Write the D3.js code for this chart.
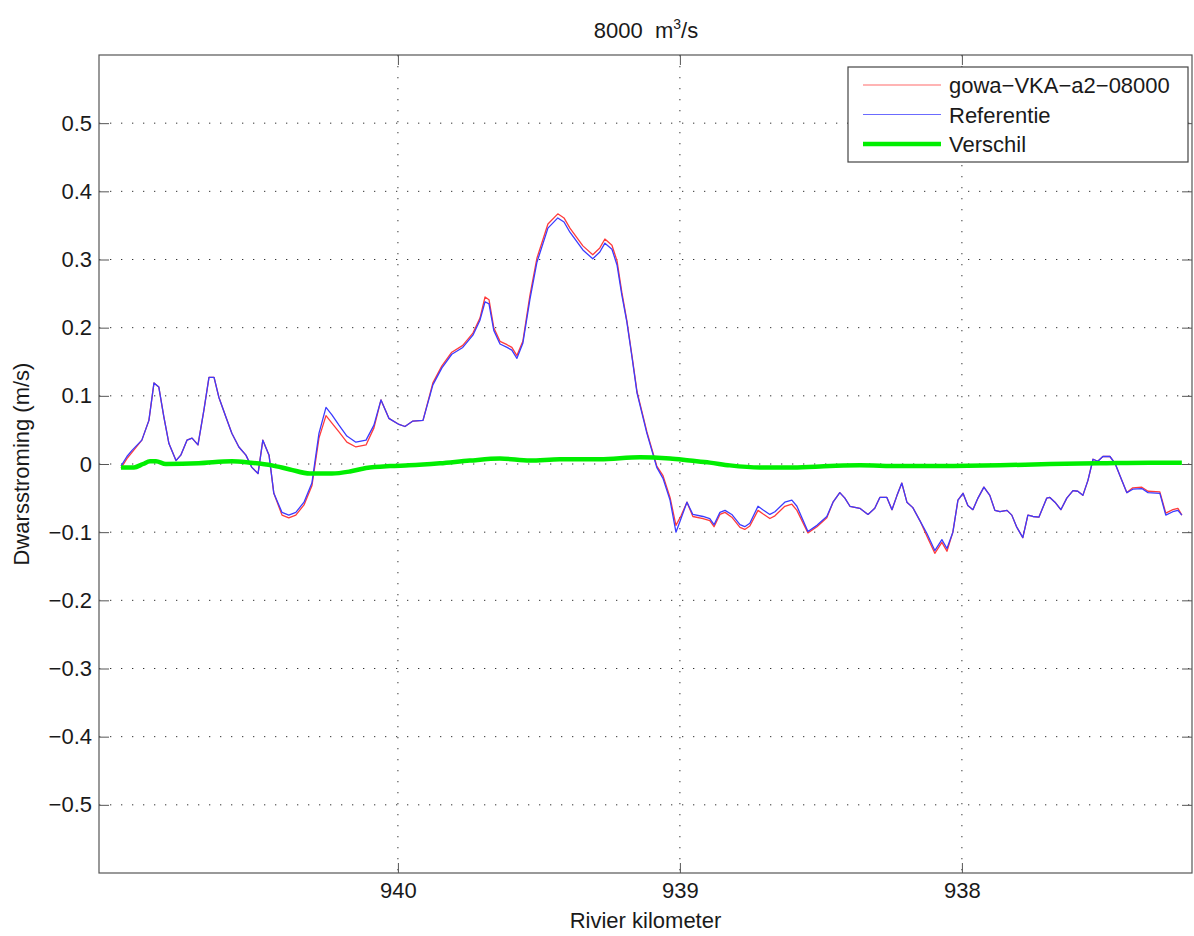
<!DOCTYPE html>
<html>
<head>
<meta charset="utf-8">
<script src="https://cdn.jsdelivr.net/npm/d3@7"></script>
<style>
  html, body { margin: 0; padding: 0; background: #fff; }
  svg { display: block; font-family: "Liberation Sans", Arial, Helvetica, sans-serif; }
</style>
</head>
<body>
<svg id="chart" width="1194" height="936"></svg>
<script>
// ---------- data ----------
const kmMain = [940.982,940.961,940.943,940.908,940.883,940.865,940.848,940.830,940.812,940.787,940.770,940.748,940.730,940.709,940.688,940.670,940.652,940.635,940.610,940.589,940.564,940.539,940.518,940.496,940.479,940.457,940.440,940.411,940.387,940.362,940.333,940.305,940.280,940.255,940.234,940.209,940.181,940.149,940.113,940.085,940.060,940.032,939.996,939.975,939.947,939.911,939.876,939.844,939.809,939.770,939.734,939.709,939.691,939.677,939.660,939.638,939.613,939.596,939.578,939.557,939.532,939.507,939.468,939.433,939.411,939.390,939.344,939.309,939.284,939.266,939.241,939.223,939.206,939.188,939.170,939.152,939.117,939.082,939.060,939.035,939.014,938.996,938.975,938.954,938.918,938.894,938.879,938.858,938.840,938.816,938.787,938.770,938.752,938.723,938.706,938.681,938.663,938.628,938.603,938.585,938.546,938.514,938.479,938.457,938.433,938.415,938.397,938.362,938.333,938.309,938.291,938.266,938.248,938.230,938.213,938.195,938.174,938.149,938.124,938.096,938.071,938.053,938.032,938.014,937.996,937.979,937.961,937.943,937.922,937.901,937.883,937.865,937.840,937.823,937.805,937.784,937.766,937.748,937.727,937.699,937.688,937.670,937.649,937.628,937.606,937.589,937.571,937.553,937.535,937.518,937.500,937.475,937.457,937.433,937.415,937.394,937.362,937.340,937.298,937.277,937.252,937.234,937.220];

const referentie = [-0.003,0.011,0.020,0.035,0.064,0.119,0.113,0.069,0.030,0.005,0.013,0.035,0.038,0.028,0.079,0.127,0.127,0.098,0.069,0.045,0.025,0.013,-0.005,-0.014,0.035,0.013,-0.043,-0.071,-0.075,-0.071,-0.056,-0.028,0.045,0.083,0.072,0.057,0.041,0.032,0.035,0.057,0.094,0.067,0.058,0.055,0.063,0.064,0.116,0.141,0.161,0.171,0.189,0.211,0.238,0.235,0.196,0.176,0.171,0.167,0.155,0.177,0.241,0.296,0.346,0.361,0.355,0.340,0.314,0.301,0.311,0.324,0.315,0.292,0.248,0.208,0.157,0.104,0.045,-0.005,-0.021,-0.053,-0.100,-0.080,-0.056,-0.074,-0.077,-0.080,-0.089,-0.071,-0.068,-0.074,-0.089,-0.092,-0.087,-0.062,-0.067,-0.074,-0.070,-0.056,-0.053,-0.062,-0.099,-0.090,-0.077,-0.056,-0.042,-0.050,-0.062,-0.065,-0.074,-0.065,-0.049,-0.049,-0.067,-0.046,-0.028,-0.056,-0.064,-0.083,-0.102,-0.127,-0.111,-0.124,-0.100,-0.053,-0.043,-0.061,-0.067,-0.050,-0.034,-0.046,-0.068,-0.070,-0.068,-0.075,-0.093,-0.108,-0.075,-0.077,-0.078,-0.050,-0.049,-0.056,-0.067,-0.050,-0.039,-0.040,-0.046,-0.024,0.007,0.004,0.011,0.011,0.001,-0.024,-0.042,-0.037,-0.036,-0.042,-0.043,-0.075,-0.070,-0.068,-0.075];

const gowa = [-0.006,0.008,0.017,0.035,0.064,0.119,0.113,0.069,0.030,0.005,0.013,0.035,0.038,0.028,0.079,0.127,0.127,0.098,0.069,0.045,0.025,0.013,-0.005,-0.014,0.035,0.013,-0.043,-0.075,-0.079,-0.075,-0.060,-0.032,0.038,0.071,0.060,0.047,0.032,0.025,0.028,0.053,0.094,0.067,0.058,0.055,0.063,0.064,0.119,0.144,0.164,0.174,0.192,0.214,0.245,0.241,0.200,0.180,0.175,0.171,0.159,0.180,0.247,0.302,0.352,0.367,0.361,0.346,0.320,0.307,0.317,0.330,0.321,0.298,0.252,0.210,0.159,0.106,0.047,-0.003,-0.017,-0.049,-0.090,-0.076,-0.056,-0.077,-0.080,-0.083,-0.092,-0.074,-0.071,-0.078,-0.093,-0.096,-0.091,-0.068,-0.073,-0.080,-0.076,-0.062,-0.059,-0.068,-0.101,-0.092,-0.079,-0.056,-0.042,-0.050,-0.062,-0.065,-0.074,-0.065,-0.049,-0.049,-0.067,-0.046,-0.028,-0.056,-0.064,-0.083,-0.106,-0.131,-0.115,-0.128,-0.100,-0.053,-0.043,-0.061,-0.067,-0.050,-0.034,-0.046,-0.068,-0.070,-0.068,-0.075,-0.093,-0.108,-0.075,-0.077,-0.078,-0.050,-0.049,-0.056,-0.067,-0.050,-0.039,-0.040,-0.046,-0.024,0.007,0.004,0.011,0.011,0.001,-0.024,-0.042,-0.035,-0.034,-0.040,-0.041,-0.072,-0.067,-0.065,-0.075];

const kmDiff = [940.982,940.936,940.904,940.879,940.858,940.823,940.706,940.589,940.525,940.447,940.383,940.312,940.234,940.170,940.113,940.028,939.961,939.851,939.745,939.638,939.532,939.426,939.284,939.142,939.035,938.965,938.894,938.823,938.716,938.599,938.468,938.362,938.220,938.078,937.865,937.688,937.511,937.333,937.220];
const verschil = [-0.005,-0.005,0.000,0.004,0.004,0.000,0.001,0.004,0.002,-0.002,-0.008,-0.014,-0.014,-0.011,-0.006,-0.003,-0.002,0.001,0.005,0.008,0.005,0.007,0.007,0.010,0.008,0.005,0.002,-0.002,-0.005,-0.005,-0.003,-0.002,-0.003,-0.003,-0.002,0.000,0.001,0.002,0.002];

const xTicks = [940, 939, 938];
const yTicks = [-0.5, -0.4, -0.3, -0.2, -0.1, 0, 0.1, 0.2, 0.3, 0.4, 0.5];
const seriesNames = ["gowa\u2212VKA\u2212a2\u221208000", "Referentie", "Verschil"];
const titleText = "8000\u00a0\u00a0m";
const yLabel = "Dwarsstroming (m/s)";
const xLabel = "Rivier kilometer";

// ---------- layout ----------
const FS = 22;
const L = 99, R = 1192, T = 55, B = 873;
const svg = d3.select("#chart");
const x = d3.scaleLinear().domain([941.06, 937.184]).range([L, R]);
const y = d3.scaleLinear().domain([-0.6, 0.6]).range([B, T]);

const fmt = v => (v === 0 ? "0" : (v < 0 ? "\u2212" : "") + Math.abs(v).toFixed(1));

// grid
const grid = svg.append("g");
grid.selectAll("line.gx").data(xTicks).join("line")
  .attr("x1", d => x(d)).attr("x2", d => x(d)).attr("y1", T).attr("y2", B)
  .attr("stroke", "#333").attr("stroke-width", 1).attr("stroke-dasharray", "1.3,9.7");
grid.selectAll("line.gy").data(yTicks).join("line")
  .attr("x1", L).attr("x2", R).attr("y1", d => y(d)).attr("y2", d => y(d))
  .attr("stroke", "#333").attr("stroke-width", 1).attr("stroke-dasharray", "1.3,9.7");

// axes with inward ticks
const axisCol = "#555";
const gL = svg.append("g").attr("transform", `translate(${L},0)`)
  .call(d3.axisLeft(y).tickValues(yTicks).tickFormat(fmt).tickSizeInner(-10).tickSizeOuter(0).tickPadding(7));
const gR = svg.append("g").attr("transform", `translate(${R},0)`)
  .call(d3.axisRight(y).tickValues(yTicks).tickFormat("").tickSizeInner(-10).tickSizeOuter(0));
const gB = svg.append("g").attr("transform", `translate(0,${B})`)
  .call(d3.axisBottom(x).tickValues(xTicks).tickFormat(d3.format("d")).tickSizeInner(-10).tickSizeOuter(0).tickPadding(8));
const gT = svg.append("g").attr("transform", `translate(0,${T})`)
  .call(d3.axisTop(x).tickValues(xTicks).tickFormat("").tickSizeInner(-10).tickSizeOuter(0));
[gL, gR, gB, gT].forEach(g => {
  g.select(".domain").remove();
  g.selectAll(".tick line").attr("stroke", axisCol);
  g.selectAll("text").attr("font-size", FS).attr("fill", "#1a1a1a")
    .attr("font-family", "'Liberation Sans', Arial, sans-serif");
});
gB.selectAll("text").attr("dy", "0.75em");

// box
svg.append("rect").attr("x", L).attr("y", T).attr("width", R - L).attr("height", B - T)
  .attr("fill", "none").attr("stroke", axisCol).attr("stroke-width", 1.2);

// lines
const lineMain = d3.line().x((d, i) => x(kmMain[i])).y(d => y(d));
svg.append("path").datum(gowa).attr("d", lineMain)
  .attr("fill", "none").attr("stroke", "#ff3b3b").attr("stroke-width", 1.3).attr("stroke-linejoin", "round");
svg.append("path").datum(referentie).attr("d", lineMain)
  .attr("fill", "none").attr("stroke", "#3b3bff").attr("stroke-width", 1.3).attr("stroke-linejoin", "round");
const lineDiff = d3.line().curve(d3.curveMonotoneX).x((d, i) => x(kmDiff[i])).y(d => y(d));
svg.append("path").datum(verschil).attr("d", lineDiff)
  .attr("fill", "none").attr("stroke", "#00ee00").attr("stroke-width", 4.5).attr("stroke-linejoin", "round");

// title
const title = svg.append("text").attr("x", 646).attr("y", 38).attr("text-anchor", "middle")
  .attr("font-size", FS).attr("fill", "#1a1a1a");
title.append("tspan").text(titleText);
title.append("tspan").attr("dy", -9).attr("font-size", 14).text("3");
title.append("tspan").attr("dy", 9).text("/s");

// axis labels
svg.append("text").attr("transform", `translate(29,${(T + B) / 2}) rotate(-90)`)
  .attr("text-anchor", "middle").attr("font-size", FS).attr("fill", "#1a1a1a").text(yLabel);
svg.append("text").attr("x", (L + R) / 2).attr("y", 928).attr("text-anchor", "middle")
  .attr("font-size", FS).attr("fill", "#1a1a1a").text(xLabel);

// legend
const lg = svg.append("g");
lg.append("rect").attr("x", 848).attr("y", 67).attr("width", 340).attr("height", 95)
  .attr("fill", "#fff").attr("stroke", "#444").attr("stroke-width", 1.2);
const legCols = ["#ff6b6b", "#6b6bff", "#00ee00"];
const legW = [1.2, 1.2, 4.5];
seriesNames.forEach((n, i) => {
  const yy = 85 + i * 29.5;
  lg.append("line").attr("x1", 863).attr("x2", 941).attr("y1", yy).attr("y2", yy)
    .attr("stroke", legCols[i]).attr("stroke-width", legW[i]);
  lg.append("text").attr("x", 949).attr("y", yy + 8).attr("font-size", FS).attr("fill", "#1a1a1a").text(n);
});
</script>
</body>
</html>
